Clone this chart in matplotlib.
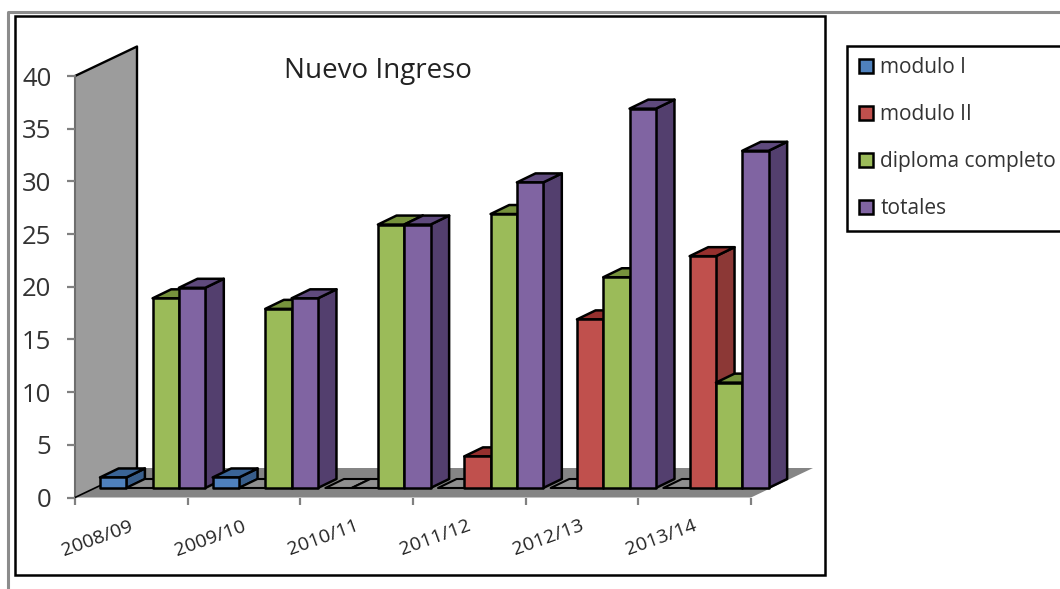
import matplotlib
matplotlib.use("Agg")
import matplotlib.pyplot as plt
from matplotlib.patches import Polygon, Patch, Rectangle
from matplotlib.lines import Line2D
from matplotlib.transforms import ScaledTranslation

plt.rcParams['font.family'] = ['Open Sans', 'DejaVu Sans']

# ---- data ----
categories = ['2008/09', '2009/10', '2010/11', '2011/12', '2012/13', '2013/14']
modulo_1 = [1, 1, 0, 0, 0, 0]
modulo_2 = [0, 0, 0, 3, 16, 22]
diploma = [18, 17, 25, 26, 20, 10]
totales = [19, 18, 25, 29, 36, 32]
series_names = ['modulo I', 'modulo II', 'diploma completo', 'totales']
title_text = 'Nuevo Ingreso'
y_ticks = [0, 5, 10, 15, 20, 25, 30, 35, 40]

# ---- style ----
front = ['#4f81bd', '#c0504d', '#9bbb59', '#8064a2']
side = ['#385d8a', '#8c3836', '#73893f', '#533f6e']
top = ['#3a6496', '#96302e', '#76923c', '#5f4a7d']
W, H = 1060, 589
L, R, B, T = 75, 751, 497.5, 76
ymax = 40
ux = (R - L) / len(categories)   # pixels per category
uy = (B - T) / ymax              # pixels per value unit

fig = plt.figure(figsize=(W / 100, H / 100), dpi=100, facecolor='white')
ax = fig.add_axes([L / W, 1 - B / H, (R - L) / W, (B - T) / H])
ax.set_xlim(0, len(categories))
ax.set_ylim(0, ymax)
ax.patch.set_visible(False)
for s in ax.spines.values():
    s.set_visible(False)

# depth of the 3-D box, expressed in data units
box_dx, box_dy = 62 / ux, 29.5 / uy
bar_d1x, bar_d1y = 18.6 / ux, 9.5 / uy
bar_d2x, bar_d2y = 37.2 / ux, 18.5 / uy
bar_w = 26.3 / ux
bar_gap = 6.4 / ux


def poly(pts, fc, ec='none', lw=0, z=1):
    ax.add_patch(Polygon(pts, closed=True, facecolor=fc, edgecolor=ec,
                         linewidth=lw, zorder=z, clip_on=False,
                         joinstyle='round'))


# wall and floor
n = len(categories)
poly([(0, 0), (0, ymax), (box_dx, ymax + box_dy), (box_dx, box_dy)], '#9c9c9c', z=1)
poly([(0, 0), (box_dx, box_dy), (n + box_dx, box_dy), (n, 0)], '#858585', z=1.1)
ax.plot([0, box_dx, box_dx], [ymax, ymax + box_dy, box_dy], color='black', lw=1.7,
        zorder=1.2, clip_on=False)
ax.plot([0, 0], [0, ymax], color='#6e6e6e', lw=1.5, zorder=1.2, clip_on=False)
ax.plot([0, box_dx], [0, box_dy], color='black', lw=1.2, zorder=1.2, clip_on=False)

# bars, painted left to right so nearer faces cover hidden ones
z = 2.0
all_series = [modulo_1, modulo_2, diploma, totales]
for c in range(n):
    for k, values in enumerate(all_series):
        v = values[c]
        x0 = c + bar_gap + k * bar_w + bar_d1x
        x1 = x0 + bar_w
        y0 = bar_d1y
        y1 = v + bar_d1y
        ddx, ddy = bar_d2x - bar_d1x, bar_d2y - bar_d1y
        z += 0.01
        if v == 0:
            poly([(x0, y0), (x1, y0), (x1 + ddx, y0 + ddy), (x0 + ddx, y0 + ddy)],
                 '#8f8f8f', 'black', 1.5, z)
            continue
        poly([(x1, y0), (x1, y1), (x1 + ddx, y1 + ddy), (x1 + ddx, y0 + ddy)],
             side[k], 'black', 1.8, z)
        poly([(x0, y1), (x1, y1), (x1 + ddx, y1 + ddy), (x0 + ddx, y1 + ddy)],
             top[k], 'black', 1.8, z)
        poly([(x0, y0), (x1, y0), (x1, y1), (x0, y1)], front[k], 'black', 1.8, z)

# axes ticks
ax.set_yticks(y_ticks)
ax.set_yticklabels([str(v) for v in y_ticks], fontsize=18.5, color='#333333')
ax.tick_params(axis='y', length=6, width=1.6, color='#808080', pad=11)
ax.set_xticks(range(n + 1))
ax.set_xticklabels([''] * (n + 1))
ax.tick_params(axis='x', which='major', length=5, width=1.6, color='#808080')
ax.set_xticks([i + 0.5 for i in range(n)], minor=True)
ax.set_xticklabels(categories, minor=True, fontsize=14, rotation=20, ha='right',
                   rotation_mode='anchor', color='#222222')
ax.tick_params(axis='x', which='minor', length=0, pad=14)
shift = ScaledTranslation(-2 / 100, 0, fig.dpi_scale_trans)
for lab in ax.get_xticklabels(minor=True):
    lab.set_transform(lab.get_transform() + shift)

# title
fig.text(378 / W, 1 - 71 / H, title_text, fontsize=20, ha='center', va='center',
         color='#222222')

# frames
fig.add_artist(Line2D([7.5 / W, 7.5 / W, 1], [0, 1 - 12 / H, 1 - 12 / H],
                      color='#8c8c8c', lw=2.2))
fig.add_artist(Rectangle((14.5 / W, 1 - 575 / H), 810.5 / W, 559 / H, fill=False,
                         edgecolor='black', lw=1.8))

# legend
handles = [Patch(facecolor=f, edgecolor='black', linewidth=1.8) for f in front]
leg = fig.legend(handles, series_names, loc='upper left',
                 bbox_to_anchor=(847 / W, 1 - 45.5 / H), borderaxespad=0,
                 fontsize=15, frameon=True, fancybox=False, framealpha=1,
                 edgecolor='black', handlelength=0.67, handleheight=0.62,
                 handletextpad=0.36, labelspacing=1.25, borderpad=0.57,
                 labelcolor='#333333')
leg.get_frame().set_linewidth(1.8)

fig.savefig('out.png', dpi=100)
